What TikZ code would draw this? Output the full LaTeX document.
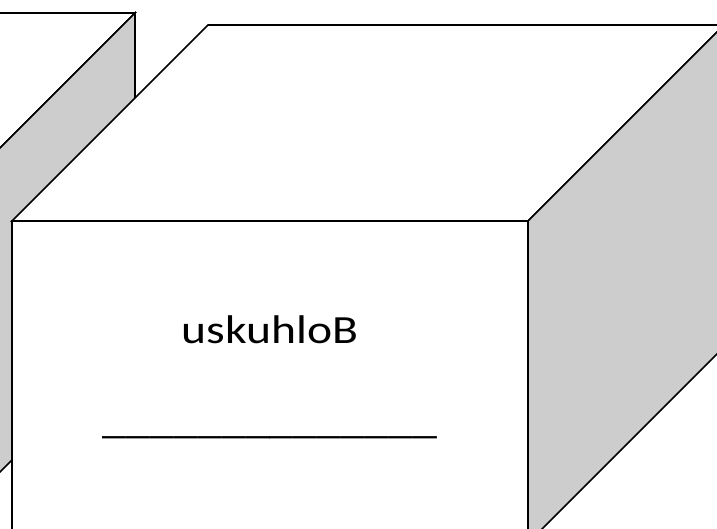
\documentclass[tikz,border=0pt]{standalone}
\usepackage{fontspec}
\setmainfont{Carlito}
\definecolor{facegray}{HTML}{CDCDCD}
\begin{document}
\begin{tikzpicture}[x=1pt,y=-1pt,
  edge/.style={draw=black,line width=1.7pt,line join=miter},
  label/.style={font=\fontsize{40}{48}\selectfont,inner sep=0pt,anchor=base}]
\useasboundingbox (0,0) rectangle (717,528);
\clip (0,0) rectangle (717,528);
% left cube (partly hidden)
\coordinate (lftr) at (-61,209);
\coordinate (lbtr) at (135,13);
\coordinate (lbbr) at (135,337);
\coordinate (lfbr) at (-61,533);
\coordinate (lbtl) at (-300,13);
\coordinate (lftl) at (-400,209);
\filldraw[edge,fill=white] (lftl) -- (lftr) -- (lbtr) -- (lbtl) -- cycle;
\filldraw[edge,fill=facegray] (lftr) -- (lbtr) -- (lbbr) -- (lfbr) -- cycle;
% big cube
\coordinate (ftl) at (12,221);
\coordinate (ftr) at (528,221);
\coordinate (fbr) at (528,543);
\coordinate (fbl) at (12,543);
\coordinate (btl) at (208,25);
\coordinate (btr) at (724,25);
\coordinate (bbr) at (724,347);
\filldraw[edge,fill=white] (ftl) -- (ftr) -- (btr) -- (btl) -- cycle;
\filldraw[edge,fill=facegray] (ftr) -- (btr) -- (bbr) -- (fbr) -- cycle;
\filldraw[edge,fill=white] (ftl) rectangle (fbr);
\node[label] (name) at (270,343) {\scalebox{1.19}[1]{uskuhloB}};
\node[label] (blank) at (270,433) {\scalebox{1.2}[1]{\_\_\_\_\_\_\_\_\_\_\_\_\_\_}};
\end{tikzpicture}
\end{document}
